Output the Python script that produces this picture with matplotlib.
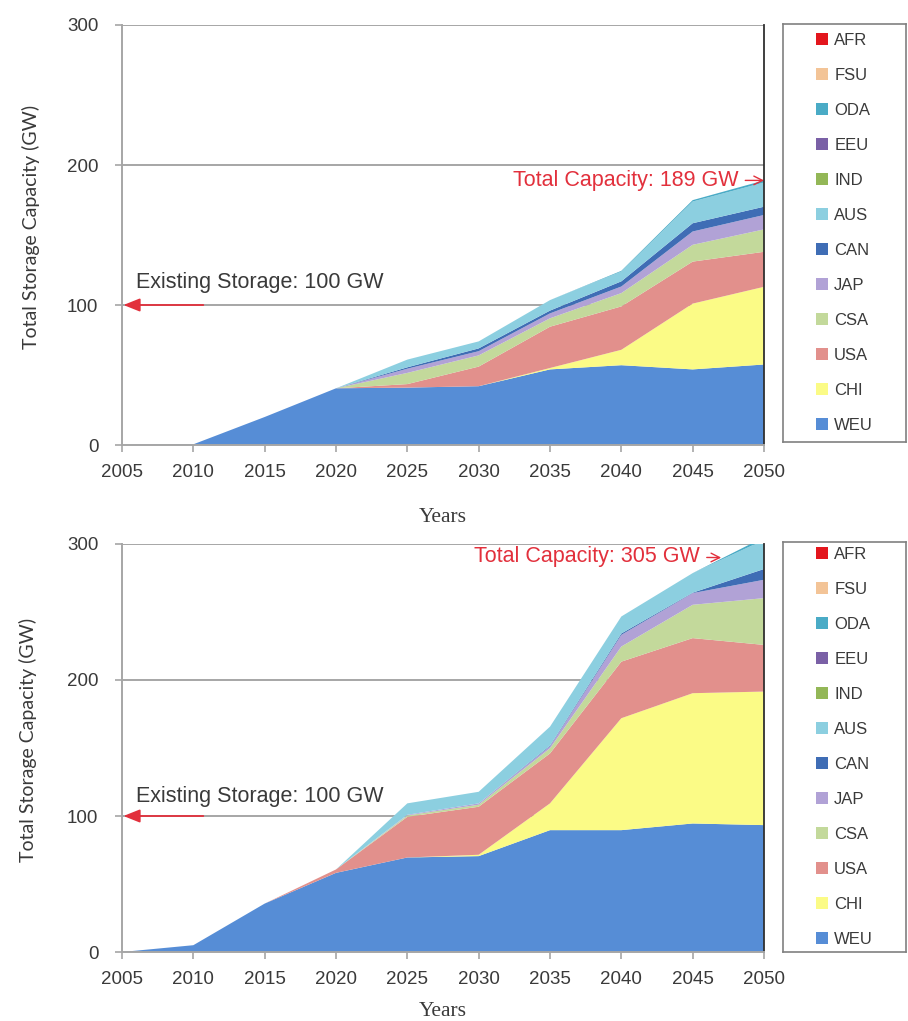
import matplotlib
matplotlib.use("Agg")
import matplotlib.pyplot as plt
from matplotlib.patches import Patch

# ---- data -------------------------------------------------------------
years = [2005, 2010, 2015, 2020, 2025, 2030, 2035, 2040, 2045, 2050]

regions = ["WEU", "CHI", "USA", "CSA", "JAP", "CAN", "AUS",
           "IND", "EEU", "ODA", "FSU", "AFR"]

colors = {
    "WEU": "#568dd6", "CHI": "#fbfb86", "USA": "#e2908c", "CSA": "#c3d99b",
    "JAP": "#b1a2d6", "CAN": "#3f6db5", "AUS": "#8ccfe0", "IND": "#93b757",
    "EEU": "#7a60a6", "ODA": "#4aabc6", "FSU": "#f3c497", "AFR": "#e3161d",
}

# scenario 1 (total 189 GW in 2050)
s1_weu = [0, 0.5, 20, 40.5, 41, 42, 54, 57, 54, 57.5]
s1_chi = [0, 0, 0, 0, 0, 0, 1, 11, 47, 55.5]
s1_usa = [0, 0, 0, 0, 2.5, 14, 29.5, 31, 30, 25]
s1_csa = [0, 0, 0, 0, 8, 8, 6, 9.5, 12, 16]
s1_jap = [0, 0, 0, 0, 3, 3, 3.5, 4.7, 9.5, 10.3]
s1_can = [0, 0, 0, 0, 1, 2, 2, 3.7, 5.9, 5.9]
s1_aus = [0, 0, 0, 0, 5.5, 5, 7.5, 7, 15.5, 17.3]
s1_ind = [0, 0, 0, 0, 0, 0, 0, 0, 0, 0]
s1_eeu = [0, 0, 0, 0, 0, 0, 0, 0, 0, 0]
s1_oda = [0, 0, 0, 0, 0, 0, 0, 0.5, 1, 1.5]
s1_fsu = [0, 0, 0, 0, 0, 0, 0, 0, 0, 0]
s1_afr = [0, 0, 0, 0, 0, 0, 0, 0, 0, 0]

# scenario 2 (total 305 GW in 2050)
s2_weu = [0, 5, 35.6, 58.2, 69.5, 70.5, 89.6, 89.6, 94.5, 93.3]
s2_chi = [0, 0, 0, 0, 0, 1, 19.7, 82.3, 95.8, 98.2]
s2_usa = [0, 0, 0, 2.5, 29.9, 35.3, 36.7, 41.6, 40.5, 34.3]
s2_csa = [0, 0, 0, 0, 1, 1.5, 3.8, 11.1, 24.5, 34.4]
s2_jap = [0, 0, 0, 0, 0.5, 1, 1.5, 8.6, 8.6, 13.5]
s2_can = [0, 0, 0, 0, 0, 0, 0.5, 1, 0.3, 7.9]
s2_aus = [0, 0, 0, 0, 8.4, 8.5, 13.9, 12.5, 14.4, 21.4]
s2_ind = [0, 0, 0, 0, 0, 0, 0, 0, 0, 0]
s2_eeu = [0, 0, 0, 0, 0, 0, 0, 0, 0, 0]
s2_oda = [0, 0, 0, 0, 0, 0, 0, 0, 0, 2]
s2_fsu = [0, 0, 0, 0, 0, 0, 0, 0, 0, 0]
s2_afr = [0, 0, 0, 0, 0, 0, 0, 0, 0, 0]

scenario1 = [s1_weu, s1_chi, s1_usa, s1_csa, s1_jap, s1_can, s1_aus,
             s1_ind, s1_eeu, s1_oda, s1_fsu, s1_afr]
scenario2 = [s2_weu, s2_chi, s2_usa, s2_csa, s2_jap, s2_can, s2_aus,
             s2_ind, s2_eeu, s2_oda, s2_fsu, s2_afr]

existing_storage = 100
total_1 = 189
total_2 = 305

# ---- styling ----------------------------------------------------------
plt.rcParams["font.family"] = ["Liberation Sans", "DejaVu Sans"]
RED = "#e2303c"
GRID = "#a6a6a6"
TXT = "#3a3a3a"

W, H = 908, 1021
fig = plt.figure(figsize=(W / 100, H / 100), dpi=100)


def frac_box(x0, y0, x1, y1):
    return [x0 / W, 1 - y1 / H, (x1 - x0) / W, (y1 - y0) / H]


def draw_panel(ax, data, total, total_xy, total_text_x, total_text_y,
               exist_text_y, ylabel_x):
    ax.stackplot(years, data, colors=[colors[r] for r in regions],
                 linewidth=0, zorder=2)
    ax.set_xlim(2005, 2050)
    ax.set_ylim(0, 300)
    ax.set_xticks(years)
    ax.set_yticks([0, 100, 200, 300])
    for y in (100, 200, 300):
        ax.axhline(y, color=GRID, lw=1.4, zorder=1)
    for s in ("left", "bottom"):
        ax.spines[s].set_color(GRID)
        ax.spines[s].set_linewidth(1.4)
    ax.spines["top"].set_visible(False)
    ax.spines["right"].set_color("#303030")
    ax.spines["right"].set_linewidth(1.3)
    ax.tick_params(axis="both", colors=GRID, labelcolor=TXT, length=5,
                   width=1.2, labelsize=13.5)
    ax.tick_params(axis="x", pad=9)
    ax.tick_params(axis="y", pad=12)
    ax.set_ylabel("Total Storage Capacity (GW)", family="Lato",
                  fontsize=14, color=TXT)
    ax.yaxis.set_label_coords(ylabel_x, 0.52)
    ax.set_xlabel("Years", family="Liberation Serif", fontsize=15.5,
                  color=TXT)

    # existing storage marker
    ax.annotate("", xy=(2005.1, existing_storage),
                xytext=(2010.7, existing_storage),
                arrowprops=dict(arrowstyle="-|>,head_length=1.0,head_width=0.4",
                                color=RED, lw=1.3, shrinkA=0, shrinkB=0),
                zorder=4)
    ax.text(2006.0, exist_text_y, f"Existing Storage: {existing_storage} GW",
            fontsize=15.5, color=TXT, va="center", ha="left", zorder=4)

    # total capacity label
    ax.annotate(f"Total Capacity: {total} GW", xy=total_xy,
                xytext=(total_text_x, total_text_y), ha="right", va="center",
                fontsize=15.5, color=RED,
                arrowprops=dict(arrowstyle="->", color=RED, lw=1.0,
                                shrinkA=3, shrinkB=0),
                annotation_clip=False, zorder=4)


def draw_legend(box):
    lax = fig.add_axes(box)
    lax.set_xticks([])
    lax.set_yticks([])
    for s in lax.spines.values():
        s.set_color("#808080")
        s.set_linewidth(1.2)
    handles = [Patch(facecolor=colors[r], edgecolor="none")
               for r in regions[::-1]]
    lax.legend(handles, regions[::-1], loc="center", frameon=False,
               fontsize=12, labelspacing=1.2, handlelength=0.75,
               handleheight=0.75, handletextpad=0.35,
               labelcolor=TXT, borderaxespad=0)


# top panel
ax1 = fig.add_axes(frac_box(122, 25, 764, 445))
draw_panel(ax1, scenario1, total_1, (2050, total_1), 2048.2, total_1,
           116, -0.128)
ax1.xaxis.set_label_coords(0.5, -0.15)
draw_legend(frac_box(783, 24, 906, 442))

# bottom panel
ax2 = fig.add_axes(frac_box(122, 544, 764, 952))
draw_panel(ax2, scenario2, total_2, (2047.0, 290), 2045.5, 291,
           114, -0.132)
ax2.xaxis.set_label_coords(0.5, -0.122)
draw_legend(frac_box(783, 542, 906, 952))

fig.savefig("out.png", dpi=100, facecolor="white")
